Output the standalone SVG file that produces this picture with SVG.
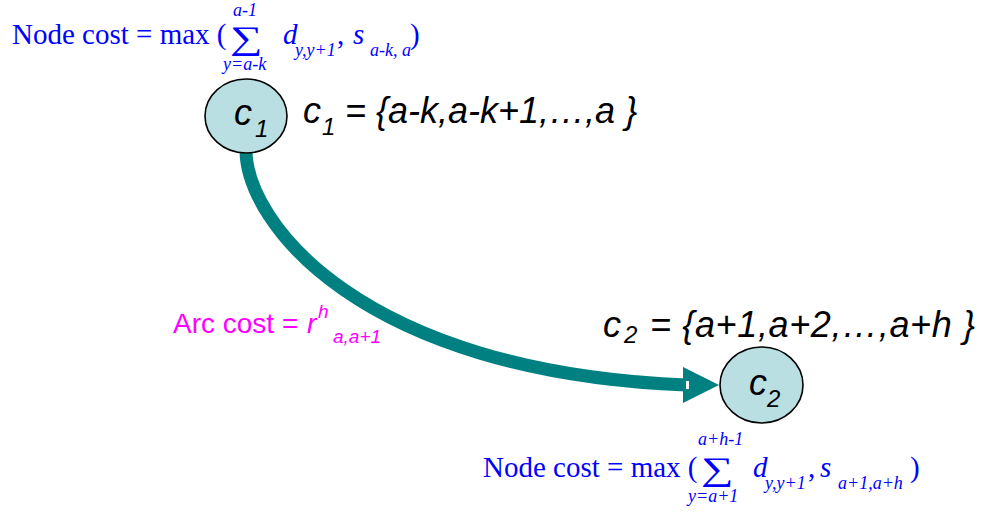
<svg xmlns="http://www.w3.org/2000/svg" width="983" height="513" viewBox="0 0 983 513">
<style>
.node{fill:#B9DFE2;stroke:#000;stroke-width:1.6}
.ar{font-family:"Liberation Sans",Arial,sans-serif;font-style:italic;fill:#000}
.big{font-size:36px}
.sub{font-size:24px}
.tm{font-family:"Liberation Serif","Times New Roman",serif;fill:#0000FF}
.m{font-size:29px}
.sig{font-size:33px}
.s{font-size:18px;font-style:italic}
.it{font-style:italic}
.arc{font-family:"Liberation Sans",Arial,sans-serif;fill:#FF00FF}
.edge{fill:none;stroke:#008080;stroke-width:13}
</style>
<rect width="983" height="513" fill="#fff"/>
<g id="connectors">
  <path class="edge" d="M246,150 C246,222 360,372 686,385"/>
  <polygon points="683,367 719,385 683,403" fill="#008080"/>
  <rect x="686" y="381" width="3" height="8" fill="#fff"/>
</g>
<g id="node-c1">
  <ellipse class="node" cx="246" cy="116" rx="41" ry="37"/>
  <text class="ar big" x="234" y="125">c</text>
  <text class="ar sub" x="255" y="137">1</text>
  <text class="ar big" x="303" y="123">c</text>
  <text class="ar sub" x="322" y="135">1</text>
  <text class="ar big" x="345" y="123">= {a-k,a-k+1,…,a }</text>
</g>
<g id="node-c2">
  <ellipse class="node" cx="761.5" cy="385" rx="41.5" ry="38"/>
  <text class="ar big" x="749" y="395">c</text>
  <text class="ar sub" x="767" y="407">2</text>
  <text class="ar big" x="603" y="337">c</text>
  <text class="ar sub" x="624" y="343">2</text>
  <text class="ar big" x="650" y="337" textLength="325" lengthAdjust="spacing">= {a+1,a+2,…,a+h }</text>
</g>
<g id="arc-label">
  <text class="arc" font-size="28" x="173" y="333">Arc cost =</text>
  <text class="arc it" font-size="28" x="307" y="333">r</text>
  <text class="arc it" font-size="19" x="318" y="318">h</text>
  <text class="arc it" font-size="19" x="333" y="343">a,a+1</text>
</g>
<g id="node-cost-top" class="tm">
  <text class="m" x="12" y="44">Node cost = max (</text>
  <text class="sig" transform="translate(230,49) scale(1.38,1)">∑</text>
  <text class="s" x="233" y="16" font-size="17">a-1</text>
  <text class="s" x="223" y="70">y=a-k</text>
  <text class="m it" x="283" y="44">d</text>
  <text class="s" x="295" y="56">y,y+1</text>
  <text class="m" x="337" y="44">,</text>
  <text class="m it" x="353" y="44">s</text>
  <text class="s" x="370" y="56">a-k, a</text>
  <text class="m" x="410" y="44">)</text>
</g>
<g id="node-cost-bottom" class="tm">
  <text class="m" x="483" y="477">Node cost = max (</text>
  <text class="sig" transform="translate(701,480) scale(1.38,1)">∑</text>
  <text class="s" x="698" y="445">a+h-1</text>
  <text class="s" x="688" y="502">y=a+1</text>
  <text class="m it" x="753" y="477">d</text>
  <text class="s" x="765" y="489">y,y+1</text>
  <text class="m" x="808" y="477">,</text>
  <text class="m it" x="820" y="477">s</text>
  <text class="s" x="838" y="489">a+1,a+h</text>
  <text class="m" x="910" y="477">)</text>
</g>
</svg>
